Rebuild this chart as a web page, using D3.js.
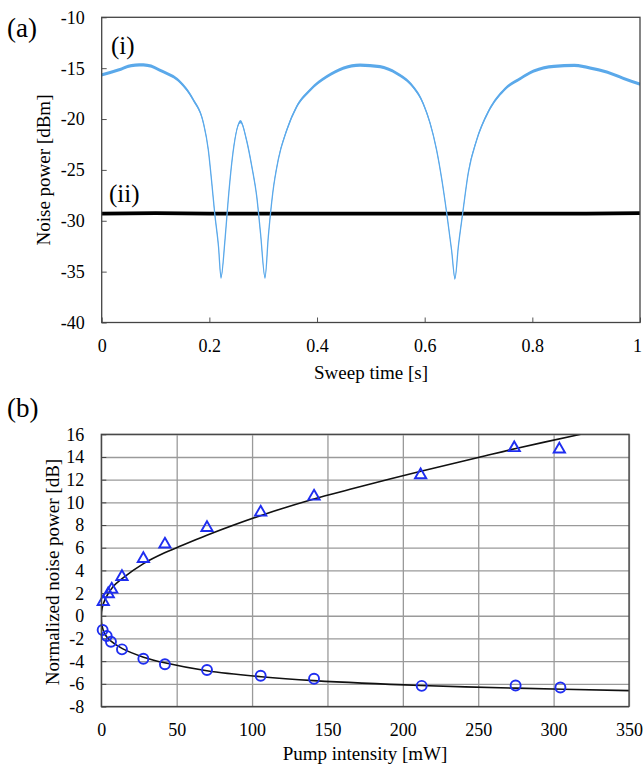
<!DOCTYPE html>
<html>
<head>
<meta charset="utf-8">
<title>Noise power</title>
<script src="https://d3js.org/d3.v7.min.js"></script>
<style>
  body { margin: 0; background: #fff; }
  text { font-family: "Liberation Serif", "Times New Roman", serif; fill: #000; }
</style>
</head>
<body>
<div id="chart"></div>
<script>

// ---- (a) sweep traces ----
var sweepTime = [0, 0.03, 0.055, 0.07, 0.085, 0.114, 0.145, 0.17, 0.189, 0.198, 0.204, 0.21, 0.217, 0.2216,
  0.229, 0.235, 0.243, 0.258, 0.269, 0.279, 0.288, 0.295, 0.3034, 0.3095, 0.3177, 0.328, 0.3437, 0.362,
  0.387, 0.418, 0.449, 0.48, 0.517, 0.548, 0.573, 0.597, 0.61, 0.622, 0.632, 0.641, 0.65, 0.6563, 0.6625,
  0.6706, 0.681, 0.6966, 0.718, 0.748, 0.779, 0.802, 0.84, 0.878, 0.908, 0.939, 0.969, 1.0];
var traceI = [-15.65, -15.2, -14.75, -14.68, -14.72, -15.35, -16.33, -18.1, -20.4, -23.0, -26.0, -29.3, -32.55, -35.56,
  -31.9, -27.96, -23.7, -20.26, -22.06, -24.7, -27.6, -31.2, -35.56, -31.57, -27.3, -24.0, -21.1, -18.8,
  -17.15, -15.84, -15.0, -14.69, -14.85, -15.5, -16.5, -18.45, -20.4, -23.0, -26.0, -29.27, -32.9, -35.66, -32.55,
  -29.27, -25.3, -22.06, -19.3, -17.1, -15.97, -15.3, -14.83, -14.73, -15.0, -15.4, -16.0, -16.56];

var sweepTimeII = [0, 0.1, 0.2, 0.3, 0.4, 0.5, 0.6, 0.7, 0.8, 0.9, 1];
var traceII = [-29.3, -29.25, -29.3, -29.3, -29.3, -29.3, -29.3, -29.3, -29.3, -29.3, -29.25];

var xTicksA = [0, 0.2, 0.4, 0.6, 0.8, 1];
var yTicksA = [-10, -15, -20, -25, -30, -35, -40];

// ---- (b) normalized noise vs pump ----
var pumpAmp = [1.3, 4.6, 6.9, 13.7, 27.9, 42.2, 70.1, 105.7, 141.1, 211.8, 273.9, 303.8];
var gainAmp = [1.24, 1.92, 2.33, 3.44, 5.03, 6.3, 7.76, 9.12, 10.53, 12.41, 14.8, 14.68];
var pumpDeamp = [0.9, 3.6, 6.4, 13.7, 27.9, 42.2, 70.1, 105.7, 141.1, 212.5, 274.8, 304.5];
var gainDeamp = [-1.26, -1.79, -2.29, -2.96, -3.79, -4.28, -4.78, -5.29, -5.55, -6.18, -6.15, -6.33];

// fitted curve, traced from its top end round the vertex to the right end
var fitPump = [318, 275, 250, 212, 165, 141, 106, 70, 50, 42, 28, 14, 8, 2.5, 0.5, 0,
  0.4, 2.5, 6, 14, 28, 42, 70, 106, 141, 212, 275, 350];
var fitGain = [16, 14.75, 13.95, 12.75, 11.15, 10.3, 8.85, 7.1, 6.0, 5.55, 4.6, 3.3, 2.6, 1.45, 0.65, 0,
  -0.85, -1.65, -2.2, -2.9, -3.65, -4.15, -4.85, -5.38, -5.72, -6.15, -6.38, -6.6];

var xTicksB = [0, 50, 100, 150, 200, 250, 300, 350];
var yTicksB = [16, 14, 12, 10, 8, 6, 4, 2, 0, -2, -4, -6, -8];

var svg = d3.select("#chart").append("svg")
    .attr("width", 643)
    .attr("height", 768);

var fmt = function(d) { return String(d); };
var serif = "Liberation Serif, Times New Roman, serif";

// ================= panel (a) =================
var xa = d3.scaleLinear().domain([0, 1]).range([101.7, 640]);
var ya = d3.scaleLinear().domain([-40, -10]).range([322.5, 17.3]);

svg.append("g")
    .attr("transform", "translate(0,322.5)")
    .call(d3.axisBottom(xa).tickValues(xTicksA).tickFormat(fmt).tickSize(-5).tickPadding(17))
    .attr("font-family", serif).attr("font-size", 18)
    .call(function(g) { g.select(".domain").remove(); })
    .call(function(g) {
        g.selectAll("line").attr("stroke", "#555");
        // last label sits on the right edge of the page
        g.selectAll("text").filter(function(d) { return d === 1; }).attr("dx", -3);
    });

svg.append("g")
    .attr("transform", "translate(101.7,0)")
    .call(d3.axisLeft(ya).tickValues(yTicksA).tickFormat(fmt).tickSize(-5).tickPadding(17))
    .attr("font-family", serif).attr("font-size", 18)
    .call(function(g) { g.select(".domain").remove(); })
    .call(function(g) {
        g.selectAll("line").attr("stroke", "#555");
        g.selectAll("text").attr("dy", "0.33em");
    });

var traceA2 = sweepTimeII.map(function(t, i) { return [t, traceII[i]]; });
var traceA1 = sweepTime.map(function(t, i) { return [t, traceI[i]]; });

// trace (ii) black
svg.append("path")
    .datum(traceA2)
    .attr("fill", "#000")
    .attr("d", d3.area().curve(d3.curveMonotoneX)
        .x(function(d) { return xa(d[0]); })
        .y0(function(d) { return ya(d[1] - 0.18); })
        .y1(function(d) { return ya(d[1] + 0.18); }));
svg.append("path")
    .datum(traceA2)
    .attr("fill", "none")
    .attr("stroke", "#000")
    .attr("stroke-width", 1.2)
    .attr("d", d3.line().curve(d3.curveMonotoneX)
        .x(function(d) { return xa(d[0]); })
        .y(function(d) { return ya(d[1]); }));

// trace (i) blue
svg.append("path")
    .datum(traceA1)
    .attr("fill", "#5ba9ea")
    .attr("d", d3.area().curve(d3.curveMonotoneX)
        .x(function(d) { return xa(d[0]); })
        .y0(function(d) { return ya(d[1] - 0.16); })
        .y1(function(d) { return ya(d[1] + 0.16); }));
svg.append("path")
    .datum(traceA1)
    .attr("fill", "none")
    .attr("stroke", "#5ba9ea")
    .attr("stroke-width", 1.3)
    .attr("d", d3.line().curve(d3.curveMonotoneX)
        .x(function(d) { return xa(d[0]); })
        .y(function(d) { return ya(d[1]); }));

svg.append("rect")
    .attr("x", 101.7).attr("y", 17.3)
    .attr("width", 640 - 101.7).attr("height", 322.5 - 17.3)
    .attr("fill", "none").attr("stroke", "#444").attr("stroke-width", 1.3);

svg.append("text").attr("x", 111).attr("y", 54).attr("font-size", 25).text("(i)");
svg.append("text").attr("x", 109).attr("y", 202).attr("font-size", 25).text("(ii)");
svg.append("text").attr("x", 7).attr("y", 37).attr("font-size", 27).text("(a)");

svg.append("text")
    .attr("x", 371).attr("y", 379)
    .attr("text-anchor", "middle").attr("font-size", 19)
    .text("Sweep time [s]");
svg.append("text")
    .attr("transform", "translate(50,170) rotate(-90)")
    .attr("text-anchor", "middle").attr("font-size", 19)
    .text("Noise power [dBm]");

// ================= panel (b) =================
var xb = d3.scaleLinear().domain([0, 350]).range([101.3, 629]);
var yb = d3.scaleLinear().domain([-8, 16]).range([706.5, 434.3]);

// grid
svg.append("g")
    .attr("transform", "translate(0,706.5)")
    .call(d3.axisBottom(xb).tickValues(xTicksB).tickFormat("").tickSize(-(706.5 - 434.3)))
    .call(function(g) { g.select(".domain").remove(); })
    .call(function(g) { g.selectAll("line").attr("stroke", "#9a9a9a").attr("stroke-width", 1.3); });
svg.append("g")
    .attr("transform", "translate(101.3,0)")
    .call(d3.axisLeft(yb).tickValues(yTicksB).tickFormat("").tickSize(-(629 - 101.3)))
    .call(function(g) { g.select(".domain").remove(); })
    .call(function(g) { g.selectAll("line").attr("stroke", "#9a9a9a").attr("stroke-width", 1.3); });

svg.append("g")
    .attr("transform", "translate(0,706.5)")
    .call(d3.axisBottom(xb).tickValues(xTicksB).tickFormat(fmt).tickSize(0).tickPadding(17))
    .attr("font-family", serif).attr("font-size", 18)
    .call(function(g) { g.select(".domain").remove(); });
svg.append("g")
    .attr("transform", "translate(101.3,0)")
    .call(d3.axisLeft(yb).tickValues(yTicksB).tickFormat(fmt).tickSize(-5).tickPadding(17))
    .attr("font-family", serif).attr("font-size", 18)
    .call(function(g) { g.select(".domain").remove(); })
    .call(function(g) {
        g.selectAll("line").attr("stroke", "#444");
        g.selectAll("text").attr("dy", "0.33em");
    });

svg.append("defs").append("clipPath").attr("id", "clipB")
    .append("rect").attr("x", 101.3).attr("y", 434.3)
    .attr("width", 629 - 101.3).attr("height", 706.5 - 434.3);

var fitData = fitPump.map(function(p, i) { return [p, fitGain[i]]; });
svg.append("path")
    .datum(fitData)
    .attr("clip-path", "url(#clipB)")
    .attr("fill", "none")
    .attr("stroke", "#111")
    .attr("stroke-width", 1.6)
    .attr("d", d3.line().curve(d3.curveCatmullRom.alpha(0.5))
        .x(function(d) { return xb(d[0]); })
        .y(function(d) { return yb(d[1]); }));

var markBlue = "#1f2ef0";

svg.append("g").selectAll("path")
    .data(pumpAmp.map(function(p, i) { return [p, gainAmp[i]]; }))
    .enter().append("path")
    .attr("transform", function(d) { return "translate(" + xb(d[0]) + "," + yb(d[1]) + ")"; })
    .attr("d", d3.symbol().type(d3.symbolTriangle).size(55))
    .attr("fill", "none")
    .attr("stroke", markBlue)
    .attr("stroke-width", 1.9);

svg.append("g").selectAll("circle")
    .data(pumpDeamp.map(function(p, i) { return [p, gainDeamp[i]]; }))
    .enter().append("circle")
    .attr("cx", function(d) { return xb(d[0]); })
    .attr("cy", function(d) { return yb(d[1]); })
    .attr("r", 5)
    .attr("fill", "none")
    .attr("stroke", markBlue)
    .attr("stroke-width", 1.9);

svg.append("rect")
    .attr("x", 101.3).attr("y", 434.3)
    .attr("width", 629 - 101.3).attr("height", 706.5 - 434.3)
    .attr("fill", "none").attr("stroke", "#444").attr("stroke-width", 1.3);

svg.append("text").attr("x", 7).attr("y", 417).attr("font-size", 27).text("(b)");

svg.append("text")
    .attr("x", 365).attr("y", 760)
    .attr("text-anchor", "middle").attr("font-size", 19)
    .text("Pump intensity [mW]");
svg.append("text")
    .attr("transform", "translate(59,572) rotate(-90)")
    .attr("text-anchor", "middle").attr("font-size", 19)
    .text("Normalized noise power [dB]");

</script>
</body>
</html>
